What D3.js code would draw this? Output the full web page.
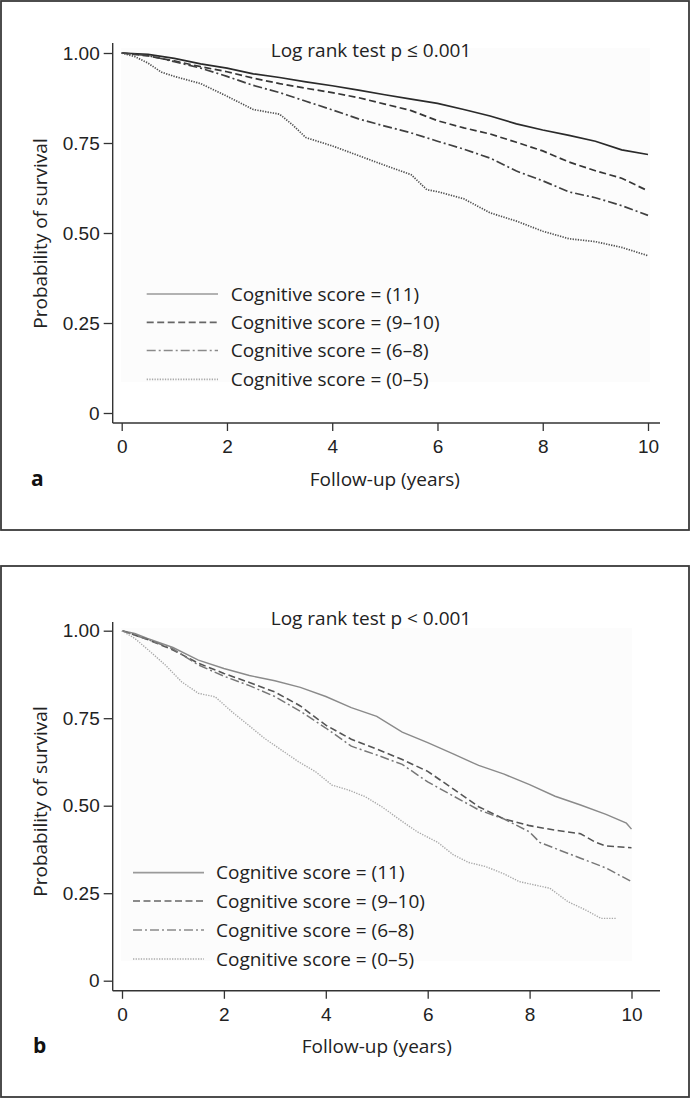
<!DOCTYPE html>
<html>
<head>
<meta charset="utf-8">
<script src="https://cdn.jsdelivr.net/npm/d3@7"></script>
<style>
  html, body { margin: 0; padding: 0; background: #fff; }
  svg { display: block; font-family: "Open Sans", "Noto Sans", sans-serif; }
</style>
</head>
<body>
<svg id="chart" width="691" height="1099"></svg>
<script>
// ---------------- DATA ----------------
const seriesLabels = ["Cognitive score = (11)", "Cognitive score = (9\u201310)", "Cognitive score = (6\u20138)", "Cognitive score = (0\u20135)"];
const xTicks = [0, 2, 4, 6, 8, 10];
const yTicks = [0, 0.25, 0.5, 0.75, 1];
const titleA = "Log rank test p \u2264 0.001";
const titleB = "Log rank test p < 0.001";
const xTitle = "Follow-up (years)";
const yTitle = "Probability of survival";

// Panel a: [years, survival probability]
const a_s11 = [[0,1],[0.5,0.996],[1,0.985],[1.5,0.970],[2,0.958],[2.5,0.942],[3,0.932],[3.5,0.920],[4,0.909],[4.5,0.897],[5,0.884],[5.5,0.872],[6,0.860],[6.5,0.843],[7,0.825],[7.5,0.803],[8,0.786],[8.5,0.771],[9,0.755],[9.5,0.731],[10,0.718]];
const a_s910 = [[0,1],[0.5,0.992],[1,0.978],[1.5,0.962],[2,0.948],[2.5,0.930],[3,0.915],[3.5,0.902],[4,0.890],[4.5,0.876],[5,0.858],[5.5,0.840],[6,0.812],[6.5,0.792],[7,0.775],[7.5,0.752],[8,0.728],[8.5,0.697],[9,0.673],[9.5,0.652],[10,0.617]];
const a_s68 = [[0,1],[0.5,0.993],[1,0.976],[1.5,0.958],[2,0.935],[2.5,0.910],[3,0.890],[3.5,0.866],[4,0.842],[4.5,0.817],[5,0.797],[5.5,0.778],[6,0.755],[6.5,0.733],[7,0.708],[7.5,0.672],[8,0.645],[8.5,0.614],[9,0.598],[9.5,0.576],[10,0.549]];
const a_s05 = [[0,1],[0.25,0.99],[0.5,0.972],[0.75,0.947],[1,0.935],[1.5,0.915],[2,0.880],[2.5,0.843],[3,0.830],[3.25,0.800],[3.5,0.765],[4,0.742],[4.5,0.715],[5,0.688],[5.5,0.662],[5.8,0.620],[6,0.615],[6.5,0.595],[7,0.556],[7.5,0.533],[8,0.505],[8.5,0.484],[9,0.476],[9.5,0.460],[10,0.437]];

// Panel b
const b_s11 = [[0,1],[0.25,0.992],[0.5,0.978],[1,0.952],[1.5,0.916],[2,0.892],[2.5,0.872],[3,0.857],[3.5,0.838],[4,0.812],[4.5,0.780],[5,0.755],[5.5,0.710],[6,0.680],[6.5,0.648],[7,0.615],[7.5,0.590],[8,0.560],[8.5,0.527],[9,0.502],[9.5,0.475],[9.9,0.450],[10,0.433]];
const b_s910 = [[0,1],[0.5,0.975],[1,0.945],[1.5,0.907],[2,0.878],[2.5,0.852],[3,0.825],[3.5,0.785],[4,0.730],[4.5,0.690],[5,0.662],[5.5,0.632],[6,0.598],[6.5,0.548],[7,0.497],[7.5,0.462],[8,0.443],[8.5,0.430],[9,0.420],[9.3,0.395],[9.5,0.385],[10,0.380]];
const b_s68 = [[0,1],[0.5,0.975],[1,0.948],[1.5,0.902],[2,0.870],[2.5,0.843],[3,0.812],[3.5,0.770],[4,0.722],[4.5,0.670],[5,0.645],[5.5,0.618],[6,0.568],[6.5,0.528],[7,0.488],[7.5,0.462],[8,0.425],[8.2,0.395],[8.5,0.378],[9,0.350],[9.5,0.322],[10,0.283]];
const b_s05 = [[0,1],[0.25,0.978],[0.5,0.947],[0.85,0.902],[1.17,0.854],[1.5,0.821],[1.83,0.811],[2.16,0.768],[2.5,0.728],[2.8,0.692],[3.13,0.659],[3.46,0.626],[3.8,0.597],[4.12,0.559],[4.44,0.545],[4.77,0.526],[5.1,0.497],[5.5,0.455],[5.8,0.425],[6.2,0.395],[6.5,0.360],[6.8,0.338],[7.14,0.326],[7.5,0.305],[7.8,0.283],[8.4,0.264],[8.75,0.226],[9.1,0.202],[9.4,0.178],[9.7,0.178]];

// ---------------- STYLES ----------------
const dashes = [null, "7,3.5", "9,3,2,3", "1.3,1.3"];
const panelStyles = {
  a: { curve: ["#2a2a2a", "#363636", "#404040", "#505050"], legend: ["#9a9a9a", "#666", "#8a8a8a", "#aaa"], width: [1.7, 1.7, 1.7, 1.7] },
  b: { curve: ["#8a8a8a", "#555", "#777", "#a8a8a8"], legend: ["#9a9a9a", "#666", "#8a8a8a", "#aaa"], width: [1.4, 1.6, 1.5, 1.4] }
};

const svg = d3.select("#chart");
const FS = 18.5;

function drawPanel(cfg) {
  const g = svg.append("g");
  // frame
  g.append("rect").attr("x", cfg.frame[0]).attr("y", cfg.frame[1])
    .attr("width", cfg.frame[2]).attr("height", cfg.frame[3])
    .attr("fill", "#fff").attr("stroke", "#3a3a3a").attr("stroke-width", 1.8);

  const x = d3.scaleLinear().domain([0, 10]).range(cfg.xr);
  const y = d3.scaleLinear().domain([0, 1]).range(cfg.yr);

  // faint plot background
  g.append("rect").attr("x", cfg.bg[0]).attr("y", cfg.bg[1]).attr("width", cfg.bg[2]).attr("height", cfg.bg[3])
    .attr("fill", "#fcfcfc");

  // axes lines
  g.append("line").attr("x1", cfg.axX).attr("x2", cfg.axX).attr("y1", cfg.axYTop).attr("y2", cfg.axY)
    .attr("stroke", "#333").attr("stroke-width", 1.4);
  g.append("line").attr("x1", cfg.axX).attr("x2", cfg.axXRight).attr("y1", cfg.axY).attr("y2", cfg.axY)
    .attr("stroke", "#333").attr("stroke-width", 1.4);

  const yAxis = d3.axisLeft(y).tickValues(yTicks)
    .tickFormat(d => d === 0 ? "0" : d3.format(".2f")(d)).tickSize(9).tickPadding(4);
  const ya = g.append("g").attr("transform", `translate(${cfg.axX},0)`).call(yAxis);
  const xAxis = d3.axisBottom(x).tickValues(xTicks).tickFormat(d3.format("d")).tickSize(8).tickPadding(9);
  const xa = g.append("g").attr("transform", `translate(0,${cfg.axY})`).call(xAxis);
  [ya, xa].forEach(a => {
    a.select(".domain").remove();
    a.selectAll(".tick line").attr("stroke", "#333").attr("stroke-width", 1.3);
    a.selectAll(".tick text").attr("fill", "#222").style("font-size", (FS + 0.5) + "px").style("font-family", "inherit");
  });

  // curves
  const line = d3.line().x(d => x(d[0])).y(d => y(d[1])).curve(d3.curveLinear);
  const st = panelStyles[cfg.key];
  cfg.series.forEach((s, i) => {
    g.append("path").datum(s).attr("d", line).attr("fill", "none")
      .attr("stroke", st.curve[i]).attr("stroke-width", st.width[i])
      .attr("stroke-dasharray", dashes[i]);
  });

  // legend
  seriesLabels.forEach((lab, i) => {
    const yy = cfg.legY[i];
    g.append("line").attr("x1", cfg.legX[0]).attr("x2", cfg.legX[1]).attr("y1", yy).attr("y2", yy)
      .attr("stroke", st.legend[i]).attr("stroke-width", 1.7).attr("stroke-dasharray", dashes[i]);
    g.append("text").attr("x", cfg.legX[2]).attr("y", yy).attr("dy", "0.35em")
      .attr("fill", "#222").style("font-size", (FS + 0.5) + "px").text(lab);
  });

  // title
  g.append("text").attr("x", 371).attr("y", cfg.titleY).attr("text-anchor", "middle")
    .attr("fill", "#222").style("font-size", (FS + 0.5) + "px").text(cfg.title);
  // x title
  g.append("text").attr("x", (cfg.xr[0] + cfg.xr[1]) / 2).attr("y", cfg.xTitleY).attr("text-anchor", "middle")
    .attr("fill", "#222").style("font-size", (FS + 0.5) + "px").text(xTitle);
  // y title
  g.append("text").attr("transform", `translate(${cfg.yTitleX},${cfg.yTitleY}) rotate(-90)`)
    .attr("text-anchor", "middle").attr("dy", "0.35em")
    .attr("fill", "#222").style("font-size", (FS + 0.5) + "px").text(yTitle);
  // panel letter
  g.append("text").attr("x", cfg.letterX).attr("y", cfg.xTitleY).attr("fill", "#111")
    .style("font-size", "21px").style("font-weight", "bold").text(cfg.letter);
}

drawPanel({
  key: "a", letter: "a", title: titleA,
  frame: [1, 1, 688, 529],
  xr: [121.7, 648], yr: [413, 53],
  bg: [121, 48, 529, 334],
  axX: 112.7, axY: 423, axYTop: 43, axXRight: 660,
  series: [a_s11, a_s910, a_s68, a_s05],
  legX: [146.7, 218, 230.7], legY: [294, 322.3, 350.5, 379.3],
  titleY: 57, xTitleY: 486, yTitleX: 40.5, yTitleY: 233.5, letterX: 31
});

drawPanel({
  key: "b", letter: "b", title: titleB,
  frame: [1, 566, 688, 531],
  xr: [122, 631.5], yr: [980.7, 630.7],
  bg: [121, 628, 511, 333],
  axX: 112.7, axY: 990.8, axYTop: 622, axXRight: 660,
  series: [b_s11, b_s910, b_s68, b_s05],
  legX: [133, 204, 216], legY: [872.7, 901, 930, 959],
  titleY: 624.5, xTitleY: 1053, yTitleX: 40.5, yTitleY: 801.5, letterX: 33
});
</script>
</body>
</html>
